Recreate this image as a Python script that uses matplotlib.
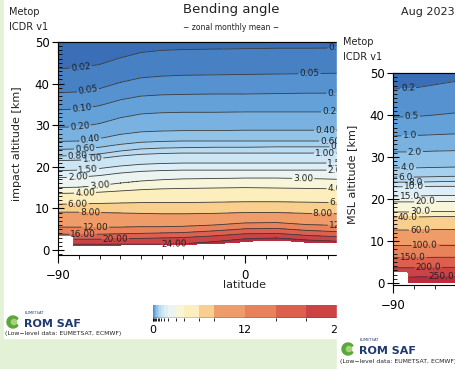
import numpy as np
import matplotlib
matplotlib.use("Agg")
import matplotlib.pyplot as plt
from matplotlib.colors import ListedColormap, BoundaryNorm
from matplotlib.cm import ScalarMappable
from matplotlib.patches import Rectangle, Wedge
from matplotlib.ticker import MultipleLocator

plt.rcParams['font.family'] = ['DejaVu Sans']

W, H = 456, 369

# ---- bending angle panel: altitude (km) of every contour, read at ba_lats
ba_lats = [-90, -80, -70, -60, -50, -40, -30, -15, 0, 15, 30, 45, 90]
ba_levels = [0.02, 0.05, 0.10, 0.20, 0.40, 0.60, 0.80, 1.00, 1.50, 2.00,
             3.00, 4.00, 6.00, 8.00, 12.00, 16.00, 20.00, 24.00]
ba_heights = [
    [43.6, 43.8, 44.6, 46.2, 47.5, 48.0, 48.2, 48.3, 48.4, 48.5, 48.5, 48.6, 48.6],
    [37.8, 38.0, 38.8, 40.3, 41.4, 41.8, 42.0, 42.1, 42.2, 42.3, 42.4, 42.5, 42.5],
    [33.7, 33.9, 34.7, 36.1, 37.0, 37.3, 37.4, 37.5, 37.5, 37.6, 37.7, 37.7, 37.7],
    [29.5, 29.6, 30.4, 31.8, 32.7, 33.0, 33.1, 33.1, 33.2, 33.2, 33.2, 33.2, 33.2],
    [26.1, 26.2, 26.8, 27.8, 28.4, 28.6, 28.7, 28.7, 28.8, 28.8, 28.8, 28.8, 28.8],
    [24.2, 24.3, 24.7, 25.4, 25.9, 26.1, 26.2, 26.2, 26.2, 26.2, 26.2, 26.2, 26.2],
    [22.6, 22.7, 23.1, 23.8, 24.3, 24.5, 24.6, 24.7, 24.7, 24.8, 24.8, 24.8, 24.8],
    [21.5, 21.6, 22.0, 22.6, 23.0, 23.2, 23.3, 23.3, 23.3, 23.3, 23.3, 23.3, 23.3],
    [19.1, 19.2, 19.6, 20.2, 20.6, 20.8, 20.9, 20.9, 20.9, 20.9, 20.9, 20.9, 20.9],
    [17.4, 17.5, 17.9, 18.5, 18.9, 19.1, 19.2, 19.2, 19.2, 19.2, 19.2, 19.2, 19.2],
    [15.0, 15.1, 15.5, 16.1, 16.6, 16.9, 17.1, 17.2, 17.3, 17.3, 17.2, 17.0, 17.0],
    [13.6, 13.7, 13.9, 14.2, 14.5, 14.7, 14.8, 14.9, 15.0, 14.9, 14.8, 14.7, 14.7],
    [11.0, 11.1, 11.2, 11.3, 11.4, 11.4, 11.4, 11.5, 11.6, 11.6, 11.5, 11.4, 11.4],
    [9.1, 9.1, 9.0, 8.9, 8.8, 8.7, 8.7, 8.8, 9.0, 9.0, 8.8, 8.7, 8.7],
    [5.5, 5.5, 5.5, 5.5, 5.6, 5.6, 5.7, 6.0, 6.5, 6.6, 6.1, 5.9, 5.9],
    [3.8, 3.8, 3.8, 3.9, 4.0, 4.1, 4.2, 4.6, 5.1, 5.2, 4.7, 4.4, 4.4],
    [2.6, 2.6, 2.6, 2.7, 2.8, 2.9, 3.0, 3.4, 3.9, 4.0, 3.5, 3.2, 3.2],
    [1.4, 1.4, 1.4, 1.4, 1.4, 1.4, 1.5, 2.0, 2.7, 2.9, 2.4, 2.1, 2.1],
]
ba_top = (52.0, 0.008)
ba_bottom = (-2.0, 40.0)
ba_surf_lat = [-90, -83, -82.5, -60, -30, -10, 0, 15, 25, 35, 90]
ba_surf_h = [3.6, 3.6, 1.2, 1.2, 1.3, 1.6, 2.0, 2.4, 2.0, 1.7, 1.7]
ba_lab_left = [-79, -75.5, -78.5, -79.5, -74.5, -77, -80.5, -73.5, -75.5, -80.5,
               -70, -77, -80.5, -74.5, -72, -78, -62.5, -34]
ba_lab_right = [45, 31, 44.5, 42, 38.5, 41, 46, 38.5, 44.5, 44.5,
                28, 44.5, 45.5, 37.5, 46.5, 55, 55, 55]

# ---- refractivity panel
rf_lats = [-90, -80, -70, -60, 90]
rf_levels = [0.2, 0.5, 1.0, 2.0, 4.0, 6.0, 8.0, 10.0, 15.0, 20.0,
             30.0, 40.0, 60.0, 100.0, 150.0, 200.0, 250.0]
rf_heights = [
    [46.2, 46.4, 47.2, 48.0, 48.0],
    [39.5, 39.6, 40.0, 40.5, 40.5],
    [35.0, 35.1, 35.3, 35.5, 35.5],
    [31.2, 31.2, 31.4, 31.5, 31.5],
    [27.4, 27.4, 27.5, 27.6, 27.6],
    [25.2, 25.2, 25.3, 25.4, 25.4],
    [24.0, 24.0, 24.1, 24.2, 24.2],
    [22.9, 22.9, 23.0, 23.0, 23.0],
    [20.7, 20.7, 20.8, 20.8, 20.8],
    [19.3, 19.3, 19.4, 19.4, 19.4],
    [16.9, 16.9, 17.0, 17.0, 17.0],
    [15.7, 15.7, 15.8, 15.8, 15.8],
    [12.6, 12.6, 12.7, 12.7, 12.7],
    [9.0, 9.0, 9.1, 9.1, 9.1],
    [6.0, 6.0, 6.1, 6.1, 6.1],
    [3.6, 3.6, 3.7, 3.7, 3.7],
    [1.4, 1.4, 1.5, 1.5, 1.5],
]
rf_top = (53.0, 0.08)
rf_bottom = (-1.0, 330.0)
rf_surf_lat = [-90, -82.8, -82.5, 90]
rf_surf_h = [2.6, 2.6, 0.0, 0.0]
rf_lab = [-82.8, -81, -82, -79.5, -82.8, -84, -79, -80, -82, -74.5,
          -77, -82.8, -77, -74.5, -80.5, -73, -67]

cb_ticks = [0, 12, 24]

band_colors = ['#3a6eb6', '#4781c4', '#5592cf', '#63a1d8', '#79b2e0', '#91c3e9',
               '#a7d0ee', '#b9dbf2', '#cce5f5', '#ddeef6', '#ebf4f0', '#f7f5da',
               '#fdefbd', '#f9cf8e', '#ef9c68', '#e8825a', '#dc5f50', '#cc4346',
               '#bb2b3c']
rf_colors = [band_colors[0]] + band_colors[2:]


def make_field(lats, levels, heights, top, bottom, surf_lat, surf_h, lat_g, z_g):
    fine = np.array([np.interp(lat_g, lats, row) for row in heights])
    logv = np.log(np.r_[bottom[1], levels[::-1], top[1]])
    out = np.empty((z_g.size, lat_g.size))
    for j in range(lat_g.size):
        hz = np.r_[bottom[0], fine[::-1, j], top[0]]
        out[:, j] = np.exp(np.interp(z_g, hz, logv))
    surf = np.interp(lat_g, surf_lat, surf_h)
    return np.ma.masked_where(z_g[:, None] < surf[None, :], out)


def px(x0, y0, x1, y1):
    return [x0 / W, 1 - y1 / H, (x1 - x0) / W, (y1 - y0) / H]


def overlay(z):
    a = fig.add_axes([0, 0, 1, 1], zorder=z)
    a.set_xlim(0, W)
    a.set_ylim(H, 0)
    a.axis('off')
    return a


def style_axes(a, ylim):
    a.set_xlim(-90, 90)
    a.set_ylim(*ylim)
    a.set_xticks([-90, 0, 90])
    a.set_xticklabels(['\u221290', '0', '90'])
    a.xaxis.set_minor_locator(MultipleLocator(10))
    a.yaxis.set_major_locator(MultipleLocator(10))
    a.yaxis.set_minor_locator(MultipleLocator(1))
    a.tick_params(axis='y', which='major', direction='inout', length=8, width=0.8,
                  labelsize=8.5, pad=2)
    a.tick_params(axis='y', which='minor', direction='in', length=3, width=0.6)
    a.tick_params(axis='x', which='major', direction='out', length=6, width=0.8,
                  labelsize=8.5, pad=4)
    a.tick_params(axis='x', which='minor', direction='out', length=3, width=0.6)
    sec = a.secondary_xaxis('top')
    sec.set_xticks([-90, 0, 90])
    sec.xaxis.set_minor_locator(MultipleLocator(10))
    sec.tick_params(which='major', direction='in', length=8, width=0.8, labeltop=False)
    sec.tick_params(which='minor', direction='in', length=4, width=0.6)
    for s in a.spines.values():
        s.set_linewidth(0.8)


def logo(a, x, y):
    a.add_patch(Wedge((x, y), 6, 35, 325, width=3.2, color='#5ca73a'))
    a.add_patch(Wedge((x + 1, y), 2.6, 0, 360, color='#a6d27a'))
    a.text(x + 12, y - 9, 'EUMETSAT', fontsize=2.6, color='#1f3a6e', va='center')
    a.text(x + 11, y + 2, 'ROM SAF', fontsize=8, fontweight='bold', color='#1f3a6e',
           va='center')
    a.text(x - 8, y + 12, '(Low\u2212level data: EUMETSAT, ECMWF)', fontsize=4.4,
           color='#222222', va='center')


fig = plt.figure(figsize=(W / 100, H / 100), dpi=100, facecolor='#e3f1d6')

bg = overlay(-5)
bg.add_patch(Rectangle((4, 0), W - 4, 338, color='white'))

# main panel
lat_g = np.linspace(-90, 90, 361)
z_g = np.linspace(-1.5, 50.5, 521)
ba = make_field(ba_lats, ba_levels, ba_heights, ba_top, ba_bottom,
                ba_surf_lat, ba_surf_h, lat_g, z_g)
ax = fig.add_axes(px(58, 42, 432, 255), zorder=0)
ax.set_facecolor('white')
ax.contourf(lat_g, z_g, ba, levels=[0] + ba_levels + [1e4], colors=band_colors)
cs = ax.contour(lat_g, z_g, ba, levels=ba_levels, colors='#3a3a3a', linewidths=0.6)
pos = [(la, np.interp(la, ba_lats, row)) for la, row in zip(ba_lab_left, ba_heights)]
pos += [(la, np.interp(la, ba_lats, row)) for la, row in zip(ba_lab_right, ba_heights)]
ax.clabel(cs, manual=pos, fmt={lv: '%.2f' % lv for lv in ba_levels},
          fontsize=6.5, inline=True, inline_spacing=1, colors='#222222')
style_axes(ax, (-1.2, 50))

# colour bar
cax = fig.add_axes(px(153, 305, 337, 318), zorder=0)
sm = ScalarMappable(norm=BoundaryNorm([0] + ba_levels, len(ba_levels)),
                    cmap=ListedColormap(band_colors[:len(ba_levels)]))
cb = fig.colorbar(sm, cax=cax, orientation='horizontal', spacing='proportional',
                  ticks=cb_ticks)
cb.outline.set_visible(False)
cax.axhline(0, color='#222222', lw=1)
cax.tick_params(length=0, labelsize=8, pad=5)

# second panel, laid over the right part
cover = overlay(1)
cover.add_patch(Rectangle((337, 0), W - 337, H, color='white'))

rf = make_field(rf_lats, rf_levels, rf_heights, rf_top, rf_bottom,
                rf_surf_lat, rf_surf_h, lat_g, z_g)
rax = fig.add_axes(px(393, 73, 767, 285), zorder=2)
rax.set_facecolor('white')
rax.contourf(lat_g, z_g, rf, levels=[0] + rf_levels + [1e5], colors=rf_colors)
rcs = rax.contour(lat_g, z_g, rf, levels=rf_levels, colors='#3a3a3a', linewidths=0.6)
rpos = [(la, np.interp(la, rf_lats, row)) for la, row in zip(rf_lab, rf_heights)]
rax.clabel(rcs, manual=rpos, fmt={lv: '%.1f' % lv for lv in rf_levels},
           fontsize=6.5, inline=True, inline_spacing=1, colors='#222222')
style_axes(rax, (-0.5, 50))

# texts
tx = overlay(3)
tx.text(9, 12, 'Metop', fontsize=7, va='center', color='#222222')
tx.text(9, 27, 'ICDR v1', fontsize=7, va='center', color='#222222')
tx.text(231, 10, 'Bending angle', fontsize=9.5, ha='center', va='center', color='#222222')
tx.text(231, 27, '\u2212 zonal monthly mean \u2212', fontsize=5.5, ha='center', va='center',
        color='#222222')
tx.text(455, 12, 'Aug 2023', fontsize=8, ha='right', va='center', color='#222222')
tx.text(17, 144, 'impact altitude [km]', fontsize=8, rotation=90, ha='center',
        va='center', color='#222222')
tx.text(245, 285, 'latitude', fontsize=8, ha='center', va='center', color='#222222')
tx.text(343, 42, 'Metop', fontsize=7, va='center', color='#222222')
tx.text(343, 57, 'ICDR v1', fontsize=7, va='center', color='#222222')
tx.text(352, 174, 'MSL altitude [km]', fontsize=8, rotation=90, ha='center',
        va='center', color='#222222')
logo(tx, 13, 322)
logo(tx, 348, 349)

fig.savefig('out.png', dpi=100, facecolor=fig.get_facecolor())
